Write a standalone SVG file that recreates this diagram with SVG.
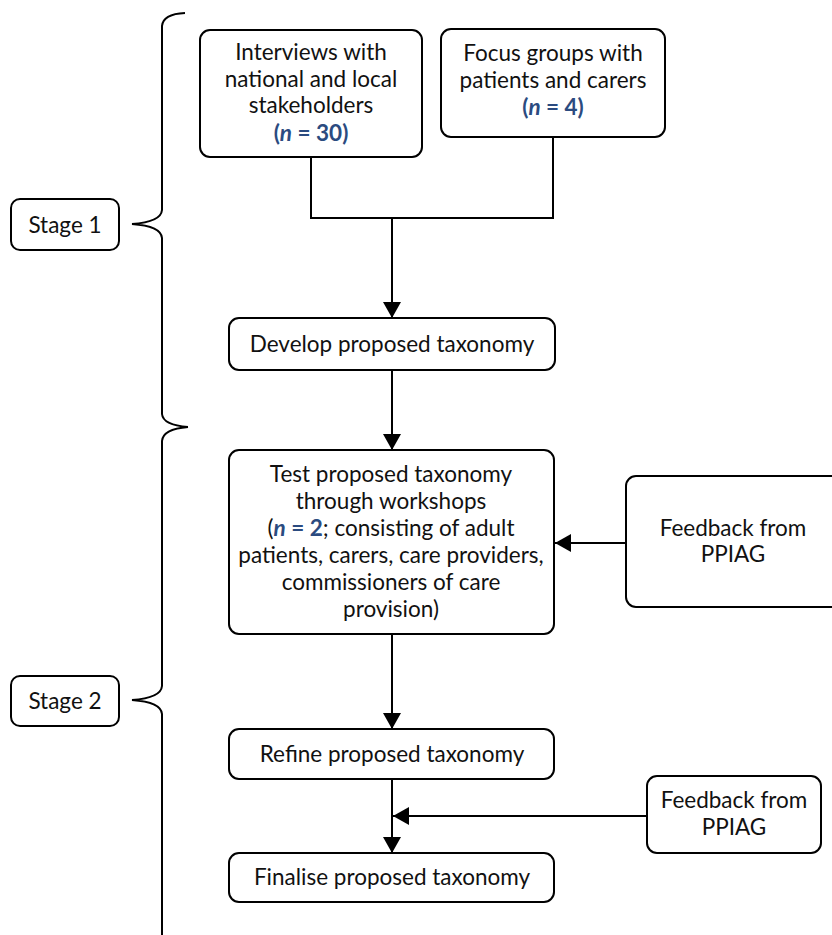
<svg xmlns="http://www.w3.org/2000/svg" width="832" height="935" viewBox="0 0 832 935">
  <defs>
    <marker id="arrow" viewBox="0 0 16 18" refX="16" refY="9" markerWidth="16" markerHeight="18" markerUnits="userSpaceOnUse" orient="auto">
      <path d="M0,0 L16,9 L0,18 Z" fill="#000"/>
    </marker>
    <style>
      .box { fill: #fff; stroke: #000; stroke-width: 2; }
      .line { fill: none; stroke: #000; stroke-width: 2; }
      .brace { fill: none; stroke: #000; stroke-width: 2; }
      text { font-family: Lato, "Liberation Sans", sans-serif; font-size: 22.5px; fill: #111; text-anchor: middle; }
      .n { fill: #2b4b80; font-weight: bold; }
      .it { font-style: italic; }
    </style>
  </defs>

  <!-- stage braces -->
  <g id="braces">
    <path class="brace" d="M185,13 Q163,14 162,26 V210 Q161,222 132,224 Q161,226 162,238 V414 Q163,425 188,427"/>
    <path class="brace" d="M188,427 Q163,429 162,441 V686 Q161,698 132,700 Q161,702 162,714 V936"/>
  </g>

  <g id="stage1">
    <rect class="box" x="11" y="199" width="108" height="51" rx="9"/>
    <text x="65" y="233">Stage 1</text>
  </g>

  <g id="stage2">
    <rect class="box" x="11" y="676" width="108" height="50" rx="9"/>
    <text x="65" y="709">Stage 2</text>
  </g>

  <!-- connectors -->
  <g id="connectors">
    <path class="line" d="M311,157 V218 H553 V137"/>
    <path class="line" d="M392,218 V318" marker-end="url(#arrow)"/>
    <path class="line" d="M392,370 V450" marker-end="url(#arrow)"/>
    <path class="line" d="M626,543 H555" marker-end="url(#arrow)"/>
    <path class="line" d="M392,634 V729" marker-end="url(#arrow)"/>
    <path class="line" d="M392,779 V853" marker-end="url(#arrow)"/>
    <path class="line" d="M647,816 H393" marker-end="url(#arrow)"/>
  </g>

  <g id="interviews">
    <rect class="box" x="200" y="30" width="222" height="127" rx="10"/>
    <text x="311" y="60">Interviews with</text>
    <text x="311" y="87">national and local</text>
    <text x="311" y="113">stakeholders</text>
    <text x="311" y="141" class="n">(<tspan class="it">n</tspan> = 30)</text>
  </g>

  <g id="focus-groups">
    <rect class="box" x="441" y="29" width="224" height="108" rx="10"/>
    <text x="553" y="61">Focus groups with</text>
    <text x="553" y="88">patients and carers</text>
    <text x="553" y="115" class="n">(<tspan class="it">n</tspan> = 4)</text>
  </g>

  <g id="develop">
    <rect class="box" x="229" y="318" width="326" height="52" rx="10"/>
    <text x="392" y="352">Develop proposed taxonomy</text>
  </g>

  <g id="test">
    <rect class="box" x="229" y="450" width="325" height="184" rx="10"/>
    <text x="391" y="482">Test proposed taxonomy</text>
    <text x="391" y="509">through workshops</text>
    <text x="391" y="536">(<tspan class="n"><tspan class="it">n</tspan> = 2</tspan>; consisting of adult</text>
    <text x="391" y="563">patients, carers, care providers,</text>
    <text x="391" y="590">commissioners of care</text>
    <text x="391" y="617">provision)</text>
  </g>

  <g id="feedback1">
    <rect class="box" x="626" y="476" width="230" height="131" rx="10"/>
    <text x="733" y="536">Feedback from</text>
    <text x="733" y="562">PPIAG</text>
  </g>

  <g id="refine">
    <rect class="box" x="229" y="729" width="325" height="50" rx="10"/>
    <text x="392" y="762">Refine proposed taxonomy</text>
  </g>

  <g id="feedback2">
    <rect class="box" x="647" y="776" width="174" height="77" rx="10"/>
    <text x="734" y="808">Feedback from</text>
    <text x="734" y="835">PPIAG</text>
  </g>

  <g id="finalise">
    <rect class="box" x="229" y="853" width="325" height="49" rx="10"/>
    <text x="392" y="885">Finalise proposed taxonomy</text>
  </g>
</svg>
